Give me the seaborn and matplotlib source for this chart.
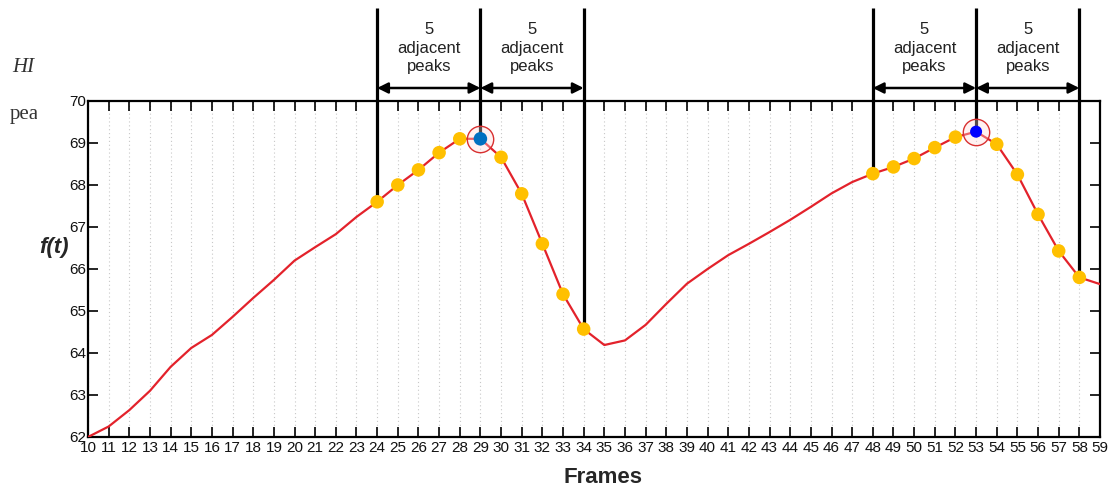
import matplotlib
matplotlib.use("Agg")
import matplotlib.pyplot as plt
import seaborn as sns
import pandas as pd
from matplotlib.patches import Rectangle

# ---- data ----
frames = list(range(10, 60))
values = [62.0, 62.25, 62.64, 63.1, 63.67, 64.12, 64.43, 64.86, 65.31, 65.74,
          66.2, 66.52, 66.83, 67.24, 67.6, 68.0, 68.36, 68.77, 69.1, 69.1,
          68.66, 67.79, 66.6, 65.4, 64.57, 64.19, 64.3, 64.67, 65.17, 65.65,
          66.0, 66.33, 66.6, 66.88, 67.17, 67.48, 67.8, 68.07, 68.27, 68.43,
          68.63, 68.89, 69.14, 69.27, 68.97, 68.25, 67.3, 66.43, 65.8, 65.64]
peak_frames = [29, 53]
peak_colors = ["#0070C0", "#0000FF"]
neighbor_frames = [24, 25, 26, 27, 28, 30, 31, 32, 33, 34,
                   48, 49, 50, 51, 52, 54, 55, 56, 57, 58]
boundary_frames = [24, 29, 34, 48, 53, 58]
window_pairs = [(24, 29), (29, 34), (48, 53), (53, 58)]
window_label = "5\nadjacent\npeaks"
y_ticks = [62, 63, 64, 65, 66, 67, 68, 69, 70]
x_label = "Frames"
y_label = "f(t)"

df = pd.DataFrame({"frame": frames, "value": values})
val = dict(zip(frames, values))
nb = df[df["frame"].isin(neighbor_frames)]

sns.set_theme(style="white")
plt.rcParams["font.family"] = ["Liberation Sans", "DejaVu Sans"]
tick_family = ["Liberation Sans Narrow", "Liberation Sans", "DejaVu Sans"]

fig = plt.figure(figsize=(11.2, 4.93), dpi=100)
ax = fig.add_axes([88/1120, 1-437/493, 1012/1120, 336/493])

# vertical dotted grid
for f in frames:
    ax.axvline(f, color="#c8c8c8", lw=0.8, ls=(0, (1, 2.5)), zorder=0)

sns.lineplot(data=df, x="frame", y="value", color="#E3222B", lw=1.6, ax=ax,
             zorder=3, legend=False)

# boundary lines
ytop = 70 + 93/42
for f in boundary_frames:
    ax.plot([f, f], [val[f], ytop], color="black", lw=2.3, clip_on=False,
            zorder=2, solid_capstyle="butt")

sns.scatterplot(data=nb, x="frame", y="value", color="#FFC000", s=95,
                edgecolor="none", ax=ax, zorder=5, legend=False)
for f, c, s in zip(peak_frames, peak_colors, [95, 75]):
    ax.scatter([f], [val[f]], s=s, color=c, edgecolor="none", zorder=6)
    ax.plot([f], [val[f]], marker="o", ms=19, mfc=(1, 0.85, 0.85, 0.35),
            mec="#D83030", mew=1.0, zorder=5.5)

# arrows and labels
yarr = 70 + 13/42
for a, b in window_pairs:
    ax.annotate("", xy=(a, yarr), xytext=(b, yarr),
                arrowprops=dict(arrowstyle="<|-|>", color="black", lw=1.8,
                                mutation_scale=16, shrinkA=0, shrinkB=0),
                annotation_clip=False)
    ax.text((a + b) / 2, 70 + 53/42, window_label, ha="center", va="center",
            fontsize=12, linespacing=1.25, color="#222222", clip_on=False)

ax.set_xlim(10, 59)
ax.set_ylim(62, 70)
ax.set_xticks(frames)
ax.set_xticklabels([str(f) for f in frames])
ax.set_yticks(y_ticks)
ax.set_yticklabels([str(t) for t in y_ticks])
ax.tick_params(direction="in", length=7, width=1.2, color="black",
               top=True, right=True, left=True, bottom=True,
               labelsize=11, pad=3, labelcolor="#111111")
ax.tick_params(axis="y", pad=1)
for tl in ax.get_xticklabels() + ax.get_yticklabels():
    tl.set_family(tick_family)
for sp in ax.spines.values():
    sp.set_color("black")
    sp.set_linewidth(1.6)
    sp.set_visible(True)

ax.set_xlabel(x_label, fontsize=16, fontweight="bold", va="center")
ax.xaxis.set_label_coords(0.509, -0.122)
ax.set_ylabel(y_label, fontsize=16, fontweight="bold", fontstyle="italic",
              rotation=0, va="center", ha="center")
ax.yaxis.set_label_coords(-0.034, 0.5625)

# partially covered background text on the left
fig.text(12/1120, 1-68/493, "HI", fontsize=15, fontstyle="italic",
         family=["Liberation Serif", "DejaVu Serif"], va="center", ha="left",
         color="#333333")
fig.text(10/1120, 1-115/493, "pea", fontsize=15,
         family=["Liberation Serif", "DejaVu Serif"], va="center", ha="left",
         color="#333333")
fig.patches.append(Rectangle((37/1120, 1-135/493), 25/1120, 90/493,
                             transform=fig.transFigure, facecolor="white",
                             edgecolor="none", zorder=4))

fig.savefig("out.png", dpi=100)
